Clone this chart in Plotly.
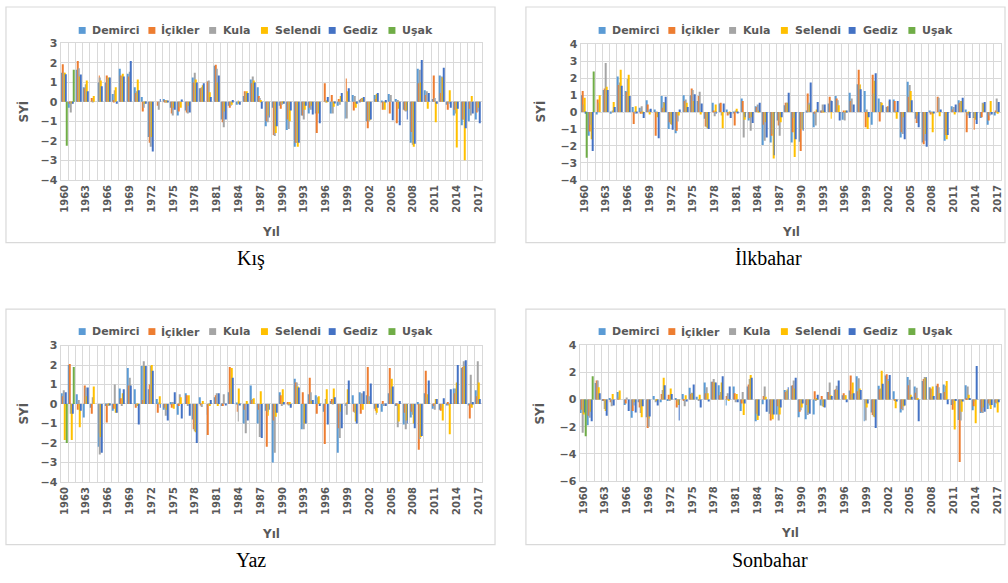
import plotly.graph_objects as go

# Standardized index (SYİ) by season and station, 1960-2017
years = list(range(1960, 2018))
stations = ["Demirci", "İçikler", "Kula", "Selendi", "Gediz", "Uşak"]
colors = ["#5B9BD5", "#ED7D31", "#A5A5A5", "#FFC000", "#4472C4", "#70AD47"]
year_ticks = years[::3]

NA = None

# ---- Kış ----
kis_demirci = [1.5, -0.3, 1.65, 0.75, 0.0, 1.0, 1.0, 0.4, 1.7, 1.45, 0.75, 0.25, -1.8, 0.0, 0.15, -0.3, -0.7, -0.45, 1.25, 0.7,
               1.05, 1.85, -0.9, -0.2, -0.15, 0.3, 1.15, 0.75, -1.25, -0.3, -0.2, -1.45, -2.3, -0.7, -0.6, -0.6, 0.0, -0.6, -0.2, -0.85,
               0.35, 0.1, -1.0, 0.35, 0.05, 0.4, 0.15, -0.4, -2.1, 1.7, 0.6, 0.15, 1.35, -0.15, -0.7, -1.2, -1.0, -0.9]
kis_icikler = [1.93, -0.1, 2.1, 0.7, 0.2, 1.35, 1.35, 0.1, 1.35, 1.3, 0.45, -0.5, -2.1, -0.2, 0.1, -0.6, -0.5, -0.55, 1.0, 0.7,
               1.05, 1.9, -1.05, -0.3, 0.0, 0.55, 0.95, 0.3, -1.0, -1.7, -0.35, -0.9, -2.1, -0.7, -0.3, -1.6, 0.95, 0.35, 0.15, 1.2,
               -0.45, 0.15, -1.35, 0.15, -0.4, -0.6, -1.1, -0.45, -1.55, 0.95, 0.35, 1.35, 0.45, -0.4, -0.4, -0.9, -0.35, -0.55]
kis_kula = [1.5, -0.55, 1.72, 0.9, 0.05, 1.25, 1.2, 0.6, 1.3, 1.55, 0.55, -0.3, -2.3, -0.4, 0.1, -0.7, -0.25, -0.6, 1.5, 0.75,
            1.1, 1.7, -1.3, -0.2, 0.05, 0.5, 1.3, 0.2, -1.05, -1.75, -0.15, -1.4, -2.1, -0.9, -0.4, -0.5, 0.05, -0.6, -0.15, -0.85,
            0.3, 0.2, -1.0, 0.3, -0.35, 0.35, 0.1, -0.5, -2.2, 1.65, 0.55, 0.2, 1.3, -0.1, -0.6, -0.9, -0.7, -0.5]
kis_selendi = [1.5, -0.05, 1.3, 1.1, 0.3, 1.1, 1.25, 0.75, 1.45, 1.25, 1.15, -0.1, -1.8, 0.0, 0.05, -0.3, -0.3, -0.2, 1.15, 0.85,
               0.5, 1.0, -0.5, -0.15, -0.1, 0.55, 1.1, 0.1, -0.7, -1.6, -0.05, -1.0, -2.3, -0.4, -0.2, -0.6, 0.05, -0.25, 0.3, 0.55,
               -0.3, 0.2, -0.95, 0.4, -0.4, 0.0, -0.35, -0.45, -2.3, 1.0, -0.35, -1.05, 1.25, 0.6, -2.35, -3.0, 0.3, -0.3]
kis_gediz = [1.42, -0.1, 1.4, 0.55, 0.0, 0.8, 1.25, -0.1, 1.3, 2.1, 0.6, -0.1, -2.55, 0.15, 0.05, -0.4, 0.12, -0.55, 1.0, 0.95,
             0.25, 1.35, -0.9, 0.1, -0.15, 0.45, 1.0, -0.35, -0.8, -1.25, -0.1, -0.45, -2.1, -0.2, -0.65, -1.1, 0.25, -0.05, 0.45, 0.7,
             -0.1, 0.25, -0.9, 0.45, 0.1, -0.95, -1.2, -0.9, -2.15, 2.15, 0.45, -0.1, 1.75, -0.3, -0.35, -1.35, -0.6, -1.1]
kis_usak = [-2.25, 1.65] + [NA] * 56

# ---- İlkbahar ----
ilk_demirci = [1.0, -1.4, -0.15, 1.3, -0.1, 2.1, 1.25, 0.3, 0.25, 0.7, 0.15, 0.95, -1.0, -1.25, 1.0, 1.0, 0.65, -0.4, 0.55, 0.5,
               0.15, -0.05, 0.8, -0.5, 0.35, -1.95, -1.8, -0.5, 0.4, -1.8, -1.75, 0.05, -0.9, 0.1, 0.5, 0.95, -0.45, 1.15, 1.65, 1.25,
               -0.75, 0.8, 0.3, 0.75, -1.5, 1.8, -0.4, -1.8, 0.1, 0.0, -1.7, 0.35, 0.7, 0.15, -0.35, -0.35, -0.75, -0.2]
ilk_icikler = [1.25, -1.15, 0.75, 1.4, 0.0, 1.6, 1.2, -0.7, -0.1, 0.45, -1.4, 0.25, -0.6, -1.1, 0.65, 1.4, 0.95, -0.85, 0.05, 0.55,
               -0.2, -0.8, 0.65, -0.35, 0.3, -0.75, -1.4, -0.8, 0.55, -1.2, -2.3, 1.1, -0.1, 0.1, 0.9, 0.8, 0.1, 0.65, 2.5, -0.9,
               2.2, -0.55, 0.35, 0.65, -1.2, 0.9, -0.65, -1.9, -0.15, 0.9, -1.35, 0.15, 0.55, -1.2, -1.05, -0.3, -0.5, 0.05]
ilk_kula = [0.45, -0.75, 0.55, 2.9, 0.05, 1.75, 1.95, -0.1, 0.35, 0.15, -0.1, 0.6, -0.7, -0.55, 0.75, 1.3, 1.2, -0.9, -0.25, -0.2,
            -0.15, 0.05, -1.5, -1.1, 0.45, -1.7, -1.3, -1.4, 0.55, -0.35, -1.0, 0.55, -0.8, 0.45, 0.7, 0.7, -0.5, 0.8, 1.6, 0.15,
            1.1, 0.6, 0.3, 0.1, -1.3, 1.6, -0.55, -1.7, -0.05, 0.85, -1.5, 0.3, 0.65, -0.2, -0.3, 0.55, -0.2, 0.8]
ilk_selendi = [0.85, -1.6, 1.0, 1.5, 0.6, 2.5, 2.2, 0.35, -0.1, -0.15, -0.3, 0.55, -0.75, -0.2, 0.55, 0.65, -0.15, -0.95, 0.45, -0.95,
               -0.1, 0.2, -0.45, -0.3, 0.1, -0.6, -2.75, -0.6, 0.55, -2.65, -1.05, 0.45, 0.15, 0.1, -0.4, 0.4, 0.05, 0.0, 1.65, -1.0,
               1.85, 0.55, 0.65, -0.4, -0.3, 1.25, -0.2, -1.3, -1.2, -0.25, -1.6, -0.15, 0.65, -0.1, -0.45, 0.5, 0.65, -0.1]
ilk_gediz = [-0.1, -2.3, 0.0, 1.3, 0.3, 1.55, 0.95, -0.05, -0.35, 0.2, -1.55, 0.9, -1.05, 0.15, 0.3, 1.05, 0.5, -1.0, -0.1, 0.5,
             -0.35, -0.05, -0.3, -0.65, 0.55, -1.5, -2.55, -0.3, 1.15, -1.6, -1.1, 1.75, 0.6, 0.45, 0.65, -0.5, 0.05, 0.45, 1.35, -0.3,
             2.3, 0.4, 0.75, 0.65, -1.6, 0.7, -0.9, -2.05, -0.05, 0.15, -1.35, 0.45, 0.85, -0.35, -0.7, 0.6, -0.15, 0.6]
ilk_usak = [-2.7, 2.4] + [NA] * 56

# ---- Yaz ----
yaz_demirci = [0.55, 2.0, 0.5, -0.7, -0.2, -2.2, -0.1, -0.35, 0.8, 1.85, 0.75, 1.95, 0.75, 0.25, -0.3, 0.1, -0.55, 0.55, -0.8, 0.35,
               -0.55, 0.35, -0.1, 0.6, 0.05, -1.0, 0.95, -1.0, -0.35, -3.0, 0.6, 0.0, 1.3, -1.3, 0.5, 0.45, -0.4, 0.15, -2.5, -0.1,
               0.45, 0.6, 0.45, -0.25, -0.4, 0.55, -0.1, -1.05, -0.7, 0.1, 0.55, -0.25, -0.3, -0.05, 0.8, 1.85, -0.05, 0.7]
yaz_icikler = [0.4, 2.05, -0.3, 0.95, -0.5, -1.5, -0.95, -0.25, 0.3, 0.95, -0.2, 0.2, 1.0, -0.45, -0.2, -0.2, -0.1, 0.45, -1.3, -0.05,
               -1.6, 0.45, -0.1, 1.9, -0.4, -0.3, 0.2, -0.3, -2.2, -0.85, 0.45, 0.1, 1.1, 0.6, 1.35, -0.5, -2.05, 0.25, -1.25, 0.05,
               -0.4, -0.5, 1.9, -0.35, 0.15, 1.85, -0.05, -0.45, -0.4, -2.35, 1.7, -0.1, -0.35, 0.1, 0.55, 1.9, -0.75, 0.4]
yaz_kula = [0.7, -0.5, 0.2, 0.85, 0.35, -2.6, -0.1, 1.0, -0.1, 1.35, -0.1, 2.2, 1.95, 0.05, -0.6, 0.1, 0.5, -0.1, -1.4, -0.15,
            -0.05, 0.55, 0.5, 0.8, -0.9, -1.5, 0.25, -1.7, -0.4, -2.5, -0.1, -0.05, 1.1, -1.3, 0.6, 0.35, 0.25, 0.1, -1.75, -0.55,
            -0.45, 0.55, 0.4, -0.55, -0.1, 0.8, -1.2, -1.3, -0.55, -1.8, 0.35, -0.3, -0.2, -0.05, 0.8, 2.2, 1.5, 2.2]
yaz_selendi = [-1.85, -1.85, -1.2, 0.4, 0.9, -1.7, -0.05, -0.45, 0.55, 0.95, -0.1, 1.95, 2.0, 0.4, -0.3, -0.25, 0.35, 0.45, -1.45, 0.15,
               -0.1, -0.1, 0.0, 1.85, 0.8, 0.15, 0.3, 0.65, -0.6, -0.65, 0.75, 0.1, 0.9, -1.0, 0.15, 0.4, 0.75, 0.8, -0.4, 0.75,
               -0.9, -0.3, 0.15, -0.45, 0.0, 1.3, -0.9, -0.85, -1.0, -1.7, 0.5, 0.25, -0.85, -1.55, 1.1, 1.95, -0.2, 1.1]
yaz_gediz = [0.6, -0.5, -0.35, 0.85, 0.0, -2.5, -0.05, -0.45, 0.75, 0.95, -1.05, 1.95, 1.7, -0.2, -0.85, 0.6, -0.75, -0.6, -2.0, 0.0,
             0.2, 0.55, -0.05, 1.35, -0.05, -0.85, 0.0, -1.75, -0.3, -0.45, 0.1, -0.2, 0.85, -1.0, 0.2, -0.1, -1.05, 0.35, -1.25, 1.2,
             -1.0, 0.65, 1.05, -0.2, -0.1, 0.9, 0.15, -1.0, -1.25, -1.65, 1.2, 0.25, 0.3, 0.75, 2.0, 2.25, 0.1, 0.25]
yaz_usak = [-2.0, 1.9] + [NA] * 56

# ---- Sonbahar ----
son_demirci = [-1.0, -1.9, 1.2, -0.05, 0.1, 0.55, -0.4, -1.35, -0.2, -1.3, 0.25, -0.2, -0.1, 0.1, 0.4, 0.85, 0.2, 1.25, 1.3, 1.05,
               -0.45, 0.95, -0.85, 0.95, -1.6, -0.35, -1.05, -1.1, 0.7, 1.0, -1.3, -1.45, -1.1, -0.45, 0.55, 0.7, 0.3, 0.65, 1.7, -1.6,
               -0.95, 1.0, 1.75, 0.6, -0.95, 1.65, 0.95, 1.35, 0.9, 1.0, 1.1, -0.4, -1.5, 1.05, -0.8, -1.0, -0.7, -0.6]
son_icikler = [-0.75, -1.2, 1.4, -0.1, -0.2, 0.1, -0.3, -0.85, -0.6, -2.1, 0.0, 0.4, 0.35, -0.6, -0.1, 0.4, 0.0, 0.45, 1.3, 0.3,
               0.25, 0.45, -0.3, 1.1, -1.05, 0.25, -1.55, -0.5, 0.55, 1.05, -0.9, -0.4, 0.6, 0.25, 0.55, 0.75, 0.45, 1.75, 0.6, -0.3,
               -1.15, 0.75, 1.85, -0.05, -0.7, 1.05, 0.5, 1.5, 0.8, 1.15, 0.55, -0.75, -4.6, 0.1, -0.5, -0.9, -0.3, -0.25]
son_kula = [-2.45, -1.35, 1.4, -0.7, -0.5, 0.2, 0.15, -0.45, -1.0, -2.0, -0.2, 0.7, -0.1, -0.15, -0.5, 0.5, -0.1, 0.9, 1.5, 0.55,
            0.45, -0.2, 0.55, 1.5, -1.1, 0.95, -1.1, -1.55, 0.65, 1.4, -0.8, -1.15, -0.1, -0.5, 1.25, 1.0, 0.3, 0.4, 1.55, -1.55,
            -1.25, 0.8, 1.5, -0.1, -0.8, 1.45, 0.85, 1.65, 0.75, 0.9, 1.0, -0.35, -1.55, 0.95, -0.15, -1.0, -0.45, -0.3]
son_selendi = [-1.1, -0.9, 0.9, -0.85, 0.4, 0.65, 0.0, -0.2, -1.3, -1.4, -0.1, 1.6, 0.8, -0.4, 0.3, 0.45, 0.35, 0.45, 1.25, 1.25,
               -0.05, 0.4, -1.15, 1.8, -1.5, 0.2, -1.45, -1.1, 0.75, 0.8, -0.6, -0.95, 0.1, -0.55, 0.3, 0.7, 0.3, 1.25, 0.8, -0.6,
               -1.3, 2.1, 1.35, -0.65, -0.5, 0.35, 0.05, 1.6, 0.95, 0.45, 1.35, -2.2, -0.9, 0.35, -1.75, -0.6, -0.7, -0.95]
son_gediz = [-0.95, -1.6, 0.45, -1.2, -0.45, 0.0, -0.85, -0.95, -0.5, -1.25, -0.45, 1.05, 0.4, -1.55, -0.15, 1.1, -0.6, -0.15, 1.25, 1.7,
             0.95, -0.2, -0.3, 1.6, -1.2, -0.9, -1.1, -0.6, 0.9, 1.6, -0.3, -1.05, 0.35, -0.6, 0.25, 1.4, -0.2, 0.45, 0.7, -0.3,
             -2.1, 1.15, 1.8, -0.15, -0.45, 0.2, -1.6, 1.65, 0.25, 0.45, -0.35, -0.1, -0.15, 0.1, 2.45, -0.9, -0.4, -0.2]
son_usak = [-2.7, 1.7] + [NA] * 56

W, H = 1008, 583
GRID = "#D9D9D9"
TEXT = "#595959"
SANS = "DejaVu Sans"


def fx(px):
    return px / W


def fy(py):
    return 1 - py / H


# plot box (px), y range, y step, chart frame (px), label anchors
panels = [
    dict(title="Kış", series=[kis_demirci, kis_icikler, kis_kula, kis_selendi, kis_gediz, kis_usak],
         plot=(59, 482, 38.3, 177.7), yrange=(-4, 3), dtick=1, frame=(4, 1, 495, 242),
         legend_y=25, caption=(250, 258), ytitle=(22, 108), xtitle=(270, 231)),
    dict(title="İlkbahar", series=[ilk_demirci, ilk_icikler, ilk_kula, ilk_selendi, ilk_gediz, ilk_usak],
         plot=(581, 1003, 39.3, 177.7), yrange=(-4, 4), dtick=1, frame=(526, 1, 1007, 242),
         legend_y=25, caption=(770, 258), ytitle=(541, 108), xtitle=(792, 231)),
    dict(title="Yaz", series=[yaz_demirci, yaz_icikler, yaz_kula, yaz_selendi, yaz_gediz, yaz_usak],
         plot=(59, 482, 347.3, 486.7), yrange=(-4, 3), dtick=1, frame=(4, 310, 495, 551),
         legend_y=333, caption=(250, 567), ytitle=(22, 417), xtitle=(270, 540)),
    dict(title="Sonbahar", series=[son_demirci, son_icikler, son_kula, son_selendi, son_gediz, son_usak],
         plot=(580, 1003, 346.7, 486.0), yrange=(-6, 4), dtick=2, frame=(526, 310, 1007, 551),
         legend_y=333, caption=(771, 567), ytitle=(540, 417), xtitle=(791, 539)),
]

# legend swatch / label offsets from the frame's left edge
legend_sq = [73, 143, 204, 256, 324, 384]
legend_tx = [84, 154, 216, 268, 336, 396]

fig = go.Figure()
layout = dict(
    width=W, height=H, margin=dict(l=0, r=0, t=0, b=0),
    paper_bgcolor="white", plot_bgcolor="white",
    barmode="group", bargap=0.2, bargroupgap=0.0,
    showlegend=False,
)
shapes = []
annotations = []

for k, p in enumerate(panels, start=1):
    sfx = "" if k == 1 else str(k)
    x0, x1, y0, y1 = p["plot"]
    for name, color, vals in zip(stations, colors, p["series"]):
        assert len(vals) == len(years)
        fig.add_trace(go.Bar(
            x=years, y=vals, name=name, marker=dict(color=color, line=dict(width=0)),
            xaxis="x" + sfx, yaxis="y" + sfx, showlegend=False,
        ))
    layout["xaxis" + sfx] = dict(
        domain=[fx(x0), fx(x1)], anchor="y" + sfx,
        range=[1959.5, 2017.5], tickmode="array", tickvals=year_ticks,
        ticktext=[str(y) for y in year_ticks], tickangle=-90,
        tickfont=dict(family=SANS, size=10, color=TEXT, weight="bold"),
        showgrid=False, zeroline=False, ticks="",
        minor=dict(tickmode="array", tickvals=[y - 0.5 for y in years] + [2017.5],
                   showgrid=True, gridcolor=GRID, gridwidth=1.4, ticks=""),
        showline=True, linecolor=GRID, linewidth=1.4, mirror=True,
        fixedrange=True,
    )
    layout["yaxis" + sfx] = dict(
        domain=[fy(y1), fy(y0)], anchor="x" + sfx,
        range=list(p["yrange"]), dtick=p["dtick"], tick0=0,
        tickfont=dict(family=SANS, size=11, color=TEXT, weight="bold"),
        showgrid=True, gridcolor=GRID, gridwidth=1.4, zeroline=False, ticks="",
        showline=True, linecolor=GRID, linewidth=1.4, mirror=True,
        fixedrange=True,
    )

    fx0, fy0, fx1, fy1 = p["frame"]
    shapes.append(dict(type="rect", xref="paper", yref="paper",
                       x0=fx(fx0), x1=fx(fx1), y0=fy(fy1), y1=fy(fy0),
                       line=dict(color=GRID, width=1.2), fillcolor="rgba(0,0,0,0)", layer="below"))

    # legend
    ly = p["legend_y"]
    for name, color, sq, tx in zip(stations, colors, legend_sq, legend_tx):
        shapes.append(dict(type="rect", xref="paper", yref="paper",
                           x0=fx(fx0 + sq), x1=fx(fx0 + sq + 7), y0=fy(ly + 3.5), y1=fy(ly - 3.5),
                           line=dict(width=0), fillcolor=color))
        annotations.append(dict(xref="paper", yref="paper", x=fx(fx0 + tx), y=fy(ly),
                                xanchor="left", yanchor="middle", showarrow=False, text=name,
                                font=dict(family=SANS, size=11, color=TEXT, weight="bold")))

    # axis titles
    annotations.append(dict(xref="paper", yref="paper", x=fx(p["ytitle"][0]), y=fy(p["ytitle"][1]),
                            xanchor="center", yanchor="middle", showarrow=False, text="SYİ", textangle=-90,
                            font=dict(family=SANS, size=12, color=TEXT, weight="bold")))
    annotations.append(dict(xref="paper", yref="paper", x=fx(p["xtitle"][0]), y=fy(p["xtitle"][1]),
                            xanchor="center", yanchor="middle", showarrow=False, text="Yıl",
                            font=dict(family=SANS, size=12, color=TEXT, weight="bold")))
    # season caption
    annotations.append(dict(xref="paper", yref="paper", x=fx(p["caption"][0]), y=fy(p["caption"][1]),
                            xanchor="center", yanchor="middle", showarrow=False, text=p["title"],
                            font=dict(family="Liberation Serif", size=20, color="black")))

layout["shapes"] = shapes
layout["annotations"] = annotations
fig.update_layout(**layout)

fig.write_html("out.html", config={"displayModeBar": False})
